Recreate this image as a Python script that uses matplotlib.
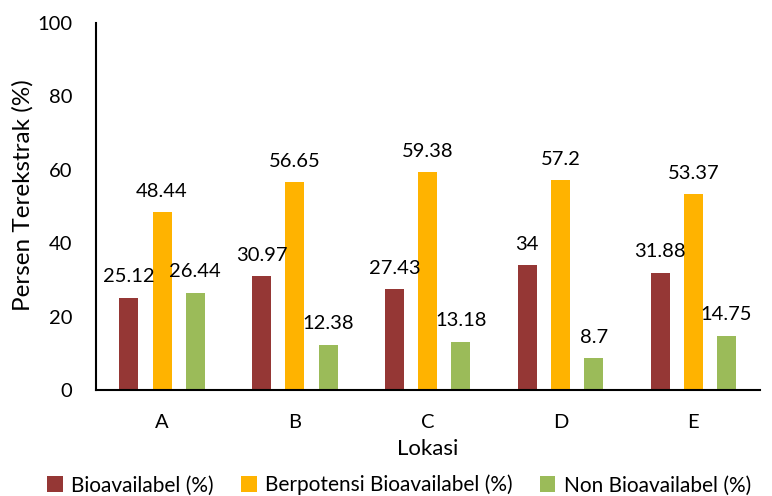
import matplotlib.pyplot as plt
import numpy as np

plt.rcParams['font.family'] = ['Lato', 'DejaVu Sans']

lokasi = ['A', 'B', 'C', 'D', 'E']
bioavailabel = [25.12, 30.97, 27.43, 34, 31.88]
berpotensi = [48.44, 56.65, 59.38, 57.2, 53.37]
non_bio = [26.44, 12.38, 13.18, 8.7, 14.75]

series = [
    ('Bioavailabel (%)', bioavailabel, '#953735'),
    ('Berpotensi Bioavailabel (%)', berpotensi, '#FFB300'),
    ('Non Bioavailabel (%)', non_bio, '#9BBB59'),
]

fig = plt.figure(figsize=(7.72, 4.96), dpi=100)
ax = fig.add_axes([0.124, 0.2137, 0.86, 0.74])

x = np.arange(len(lokasi))
w = 0.143
for i, (nama, vals, warna) in enumerate(series):
    pos = x + (i - 1) * 0.25
    ax.bar(pos, vals, width=w, color=warna, label=nama)
    for p, v in zip(pos, vals):
        ax.annotate(f'{v:g}', (p, v), xytext=(0, 9), textcoords='offset points',
                    ha='center', va='bottom', fontsize=14.5)

ax.set_xlim(-0.5, len(lokasi) - 0.5)
ax.set_ylim(0, 100)
ax.set_yticks(range(0, 101, 20))
ax.set_xticks(x)
ax.set_xticklabels(lokasi)
ax.tick_params(axis='both', labelsize=14.5, length=0)
ax.tick_params(axis='y', pad=17)
ax.tick_params(axis='x', pad=17)
ax.spines['top'].set_visible(False)
ax.spines['right'].set_visible(False)
ax.spines['left'].set_linewidth(1.5)
ax.spines['bottom'].set_linewidth(1.5)
ax.set_ylabel('Persen Terekstrak (%)', fontsize=17.5)
ax.yaxis.set_label_coords(-0.093, 0.53)
ax.set_xlabel('Lokasi', fontsize=16)
ax.xaxis.set_label_coords(0.5, -0.133)

fig.legend(loc='center', bbox_to_anchor=(0.517, 0.022), ncol=3, frameon=False,
           fontsize=15, handlelength=0.75, handleheight=0.75, handletextpad=0.4,
           columnspacing=1.3)

fig.savefig('out.png', dpi=100)
